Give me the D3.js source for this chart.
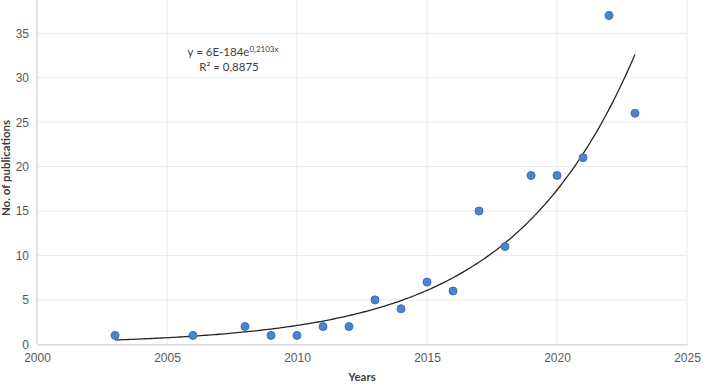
<!DOCTYPE html>
<html>
<head>
<meta charset="utf-8">
<script src="https://cdn.jsdelivr.net/npm/d3@7"></script>
<style>
  body { margin: 0; background: #fff; }
  svg { font-family: Lato, "Open Sans", sans-serif; }
  .grid line { stroke: #e9ebf1; stroke-width: 1; }
  .tick text { fill: #595959; font-size: 12px; }
</style>
</head>
<body>
<svg id="chart" width="705" height="387"></svg>
<script>
"use strict";

var years = [2003, 2006, 2008, 2009, 2010, 2011, 2012, 2013, 2014, 2015, 2016, 2017, 2018, 2019, 2020, 2021, 2022, 2023];
var pubs = [1, 1, 2, 1, 1, 2, 2, 5, 4, 7, 6, 15, 11, 19, 19, 21, 37, 26];
var xTicks = [2000, 2005, 2010, 2015, 2020, 2025];
var yTicks = [0, 5, 10, 15, 20, 25, 30, 35];
var eqText = 'y = 6E-184e';
var eqExp = '0,2103x';
var r2Text = 'R² = 0,8875';

function make_plot(svg) {
  var left = 37, right = 687, bottom = 344.3, top = 0;
  var _x = d3.scaleLinear().domain([2000, 2025]).range([left, right]);
  var _y = d3.scaleLinear().domain([0, 35]).range([bottom, 33.3]);

  // gridlines
  var grid = svg.append('g').attr('class', 'grid');
  grid.selectAll('.h').data(yTicks.slice(1)).enter().append('line')
    .attr('x1', left).attr('x2', right)
    .attr('y1', function (d) { return _y(d); })
    .attr('y2', function (d) { return _y(d); });
  grid.selectAll('.v').data(xTicks.slice(1)).enter().append('line')
    .attr('x1', function (d) { return _x(d); })
    .attr('x2', function (d) { return _x(d); })
    .attr('y1', top).attr('y2', bottom);

  // axes
  var xaxis = d3.axisBottom(_x).tickValues(xTicks).tickFormat(d3.format('d')).tickSize(0).tickPadding(9);
  svg.append('g')
    .attr('transform', 'translate(0,' + bottom + ')')
    .call(xaxis)
    .call(function (g) { g.select('.domain').attr('stroke', '#d3d8e3').attr('stroke-width', 1.5); });
  var yaxis = d3.axisLeft(_y).tickValues(yTicks).tickSize(0).tickPadding(8);
  svg.append('g')
    .attr('transform', 'translate(' + left + ',0)')
    .call(yaxis)
    .call(function (g) {
      g.select('.domain').remove();
    });
  svg.append('line')
    .attr('x1', left).attr('x2', left).attr('y1', top).attr('y2', bottom)
    .attr('stroke', '#d3d8e3').attr('stroke-width', 1.5);

  // exponential trendline (least squares on ln y)
  var n = years.length;
  var mx = d3.mean(years), ml = d3.mean(pubs, function (v) { return Math.log(v); });
  var sxy = 0, sxx = 0;
  for (var i = 0; i < n; i++) {
    sxy += (years[i] - mx) * (Math.log(pubs[i]) - ml);
    sxx += (years[i] - mx) * (years[i] - mx);
  }
  var b = sxy / sxx, a = ml - b * mx;
  var trend = d3.range(2003, 2023.01, 0.1).map(function (t) { return [t, Math.exp(a + b * t)]; });
  var line = d3.line().x(function (d) { return _x(d[0]); }).y(function (d) { return _y(d[1]); });
  svg.append('path')
    .datum(trend)
    .attr('d', line)
    .attr('fill', 'none')
    .attr('stroke', '#262626')
    .attr('stroke-width', 1.3);

  // points
  svg.selectAll('.pt').data(years).enter().append('circle')
    .attr('cx', function (d) { return _x(d); })
    .attr('cy', function (d, i) { return _y(pubs[i]); })
    .attr('r', 4)
    .attr('fill', '#4a85d2')
    .attr('stroke', '#3b70b8')
    .attr('stroke-width', 1);

  // equation
  var eq = svg.append('text')
    .attr('x', 233).attr('y', 56)
    .attr('text-anchor', 'middle')
    .attr('fill', '#404040').attr('font-size', 11.5);
  eq.append('tspan').text(eqText);
  eq.append('tspan').attr('dy', -4).attr('font-size', 8).text(eqExp);
  svg.append('text')
    .attr('x', 229).attr('y', 71)
    .attr('text-anchor', 'middle')
    .attr('fill', '#404040').attr('font-size', 11.5)
    .text(r2Text);

  // axis titles
  svg.append('text')
    .attr('x', 362).attr('y', 381)
    .attr('text-anchor', 'middle')
    .attr('font-weight', 'bold').attr('font-size', 11.5).attr('fill', '#404040')
    .text('Years');
  svg.append('text')
    .attr('transform', 'translate(10,168) rotate(-90)')
    .attr('text-anchor', 'middle')
    .attr('font-weight', 'bold').attr('font-size', 11.5).attr('fill', '#404040')
    .text('No. of publications');
}

make_plot(d3.select('#chart'));
</script>
</body>
</html>
